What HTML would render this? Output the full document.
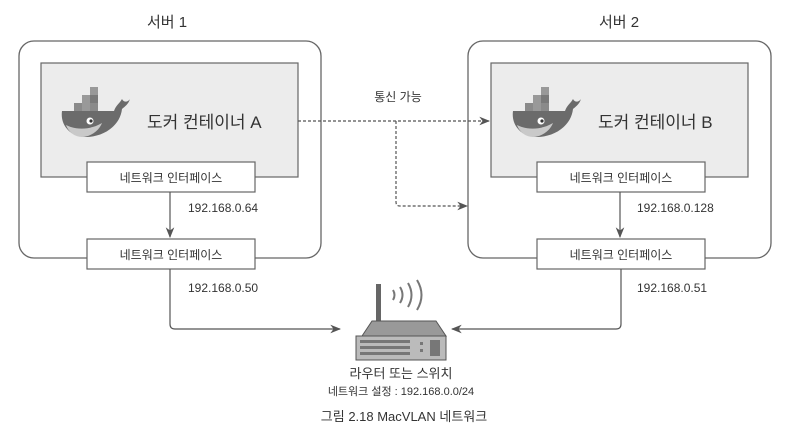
<!DOCTYPE html>
<html><head><meta charset="utf-8"><style>
html,body{margin:0;padding:0;background:#fff;}
svg{display:block}
text{font-family:"Liberation Sans","Noto Sans CJK KR",sans-serif;fill:#333}
</style></head><body>
<svg width="791" height="437" viewBox="0 0 791 437" xmlns="http://www.w3.org/2000/svg">
<defs>
<marker id="ah" viewBox="0 0 10 10" refX="9" refY="5" markerWidth="9" markerHeight="9" orient="auto"><path d="M0,1 L10,5 L0,9 L3,5 z" fill="#555"/></marker>
<g id="whale">
<path d="M0,10 L52,10 C54,4 58,2 60,-2 C62,2 66,1 68,-2 C66,4 62,6 60,8 C58,26 40,36 24,36 C8,36 -2,24 0,10 z" fill="#6b6b6b"/>
<path d="M4,24 C16,30 30,28 40,22 C36,32 26,36 20,36 C12,36 6,30 4,24 z" fill="#c9c9c9"/>
<rect x="12" y="2" width="8" height="8" fill="#8a8a8a"/><rect x="20" y="2" width="8" height="8" fill="#999"/><rect x="28" y="2" width="8" height="8" fill="#8a8a8a"/>
<rect x="20" y="-6" width="8" height="8" fill="#999"/><rect x="28" y="-6" width="8" height="8" fill="#7a7a7a"/><rect x="28" y="-14" width="8" height="8" fill="#999"/>
<circle cx="28" cy="20" r="3.5" fill="#fff"/><circle cx="29" cy="20" r="1.6" fill="#333"/>
</g>
</defs>
<text x="167" y="27" font-size="15" text-anchor="middle">서버 1</text>
<text x="619" y="27" font-size="15" text-anchor="middle">서버 2</text>
<rect x="19" y="41" width="302" height="217" rx="15" fill="#fff" stroke="#666" stroke-width="1.3"/>
<rect x="468" y="41" width="303" height="217" rx="15" fill="#fff" stroke="#666" stroke-width="1.3"/>
<rect x="41" y="63" width="257" height="114" fill="#ececec" stroke="#666" stroke-width="1.2"/>
<rect x="491" y="63" width="257" height="114" fill="#ececec" stroke="#666" stroke-width="1.2"/>
<use href="#whale" x="62" y="101"/>
<use href="#whale" x="513" y="101"/>
<text x="147" y="128" font-size="17">도커 컨테이너 A</text>
<text x="598" y="128" font-size="17">도커 컨테이너 B</text>
<rect x="87" y="162" width="168" height="30" fill="#fff" stroke="#666" stroke-width="1.2"/>
<rect x="87" y="239" width="168" height="30" fill="#fff" stroke="#666" stroke-width="1.2"/>
<rect x="537" y="162" width="168" height="30" fill="#fff" stroke="#666" stroke-width="1.2"/>
<rect x="537" y="239" width="168" height="30" fill="#fff" stroke="#666" stroke-width="1.2"/>
<g font-size="12" text-anchor="middle">
<text x="171" y="182">네트워크 인터페이스</text><text x="171" y="259">네트워크 인터페이스</text>
<text x="621" y="182">네트워크 인터페이스</text><text x="621" y="259">네트워크 인터페이스</text>
</g>
<g font-size="12">
<text x="188" y="212">192.168.0.64</text><text x="188" y="292">192.168.0.50</text>
<text x="637" y="212">192.168.0.128</text><text x="637" y="292">192.168.0.51</text>
</g>
<g stroke="#555" stroke-width="1.2" fill="none">
<line x1="170" y1="192" x2="170" y2="237" marker-end="url(#ah)"/>
<line x1="620" y1="192" x2="620" y2="237" marker-end="url(#ah)"/>
<path d="M170,269 V324 Q170,329 175,329 H340" marker-end="url(#ah)"/>
<path d="M621,269 V324 Q621,329 616,329 H452" marker-end="url(#ah)"/>
<g stroke-dasharray="3,2">
<line x1="298" y1="121" x2="489" y2="121" marker-end="url(#ah)"/>
<path d="M396,121 V202 Q396,206 400,206 H467" marker-end="url(#ah)"/>
</g>
</g>
<text x="398" y="101" font-size="12" text-anchor="middle">통신 가능</text>
<!-- router -->
<rect x="376" y="284" width="5" height="38" fill="#666"/>
<g stroke="#777" stroke-width="2" fill="none">
<path d="M393,290 q3,5 0,10"/><path d="M400,287 q5,8 0,16"/><path d="M408,283 q7,12 0,24"/><path d="M417,280 q9,15 0,30"/>
</g>
<path d="M362,336 L372,321 L436,321 L446,336 z" fill="#999" stroke="#555"/>
<rect x="356" y="336" width="90" height="24" fill="#bbb" stroke="#555"/>
<g fill="#777"><rect x="360" y="340" width="50" height="3"/><rect x="360" y="346" width="50" height="3"/><rect x="360" y="352" width="50" height="3"/>
<rect x="430" y="340" width="10" height="16"/><rect x="420" y="342" width="3" height="3"/><rect x="420" y="349" width="3" height="3"/></g>
<text x="401" y="378" font-size="13" text-anchor="middle">라우터 또는 스위치</text>
<text x="401" y="395" font-size="11" text-anchor="middle">네트워크 설정 : 192.168.0.0/24</text>
<text x="404" y="421" font-size="13" text-anchor="middle">그림 2.18 MacVLAN 네트워크</text>
</svg>
</body></html>
